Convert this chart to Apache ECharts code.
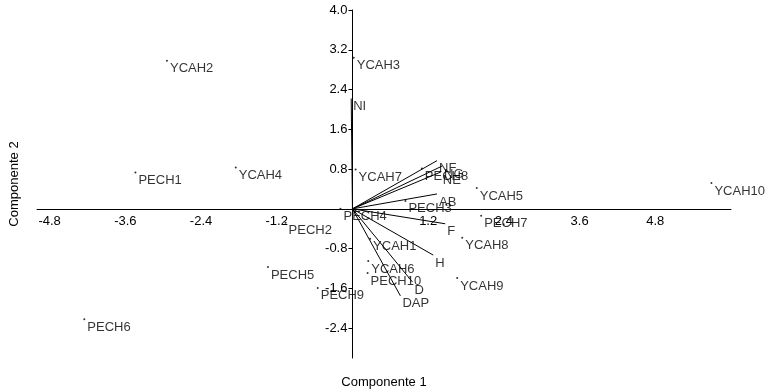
<!DOCTYPE html>
<html>
<head>
<meta charset="utf-8">
<script src="https://cdn.jsdelivr.net/npm/echarts@6/dist/echarts.min.js"></script>
<style>
  html, body { margin: 0; padding: 0; background: #fff; }
  #biplot { width: 768px; height: 390px; }
</style>
</head>
<body>
<div id="biplot"></div>
<script>
// muestras (puntos)
var sampleNames = ['YCAH2', 'YCAH3', 'PECH1', 'YCAH4', 'YCAH7', 'PECH8', 'YCAH5', 'YCAH10',
    'PECH3', 'PECH4', 'PECH2', 'PECH7', 'YCAH8', 'YCAH1', 'YCAH6', 'PECH10', 'YCAH9',
    'PECH5', 'PECH9', 'PECH6'];
var sampleX = [-2.94, 0.02, -3.44, -1.85, 0.05, 1.10, 1.97, 5.69,
    0.84, -0.19, -1.06, 2.04, 1.74, 0.28, 0.25, 0.24, 1.66,
    -1.34, -0.55, -4.25];
var sampleY = [2.98, 3.04, 0.73, 0.83, 0.79, 0.81, 0.42, 0.52,
    0.16, 0.00, -0.28, -0.14, -0.58, -0.60, -1.05, -1.29, -1.39,
    -1.17, -1.59, -2.22];

// variables (vectores)
var varNames = ['NI', 'NF', 'NG', 'NE', 'AB', 'F', 'H', 'D', 'DAP'];
var varX = [-0.02, 1.34, 1.42, 1.40, 1.34, 1.47, 1.28, 0.95, 0.76];
var varY = [2.22, 0.97, 0.86, 0.74, 0.30, -0.30, -0.93, -1.47, -1.75];

var xTicks = [-4.8, -3.6, -2.4, -1.2, 1.2, 2.4, 3.6, 4.8];
var yTicks = [-2.4, -1.6, -0.8, 0.8, 1.6, 2.4, 3.2, 4.0];

var FONT = 'Liberation Sans, Arial, sans-serif';
var W = 768, H = 390;
var G = { left: 37, right: 37, top: 10, bottom: 32 };
var X_MIN = -5, X_MAX = 6, Y_MIN = -3, Y_MAX = 4;

// los ejes se cruzan en el origen: se desplazan hacia dentro de la rejilla
var gridW = W - G.left - G.right;
var gridH = H - G.top - G.bottom;
var yAxisShift = -gridW * (0 - X_MIN) / (X_MAX - X_MIN);
var xAxisShift = -gridH * (0 - Y_MIN) / (Y_MAX - Y_MIN);

var pointData = sampleNames.map(function (n, i) {
    return { name: n, value: [sampleX[i], sampleY[i]] };
});
var vectorData = varNames.map(function (n, i) {
    return { name: n, coords: [[0, 0], [varX[i], varY[i]]] };
});
var vectorEnds = varNames.map(function (n, i) {
    return { name: n, value: [varX[i], varY[i]] };
});

var labelStyle = {
    show: true,
    position: 'right',
    distance: 2,
    offset: [0, 8],
    formatter: '{b}',
    color: '#000',
    fontSize: 13,
    fontFamily: FONT
};

var myChart = echarts.init(document.getElementById('biplot'));
var option = {
    animation: false,
    backgroundColor: '#fff',
    grid: { left: G.left, right: G.right, top: G.top, bottom: G.bottom, containLabel: false, outerBoundsMode: 'none' },
    xAxis: {
        type: 'value',
        min: X_MIN,
        max: X_MAX,
        offset: xAxisShift,
        name: 'Componente 1',
        nameLocation: 'middle',
        nameGap: 167,
        nameTextStyle: { color: '#000', fontSize: 13, fontFamily: FONT },
        axisLine: { onZero: false, lineStyle: { color: '#000', width: 1 } },
        axisTick: { show: false },
        axisLabel: {
            customValues: xTicks,
            margin: 6,
            color: '#000',
            fontSize: 13,
            fontFamily: FONT,
            formatter: function (v) { return v.toFixed(1); }
        },
        splitLine: { show: false }
    },
    yAxis: {
        type: 'value',
        min: Y_MIN,
        max: Y_MAX,
        offset: yAxisShift,
        name: 'Componente 2',
        nameLocation: 'middle',
        nameGap: 332,
        nameTextStyle: { color: '#000', fontSize: 13, fontFamily: FONT },
        axisLine: { onZero: false, lineStyle: { color: '#000', width: 1 } },
        axisTick: { show: true, length: 4, customValues: yTicks, lineStyle: { color: '#000' } },
        axisLabel: {
            customValues: yTicks,
            margin: 5,
            color: '#000',
            fontSize: 13,
            fontFamily: FONT,
            formatter: function (v) { return v.toFixed(1); }
        },
        splitLine: { show: false }
    },
    series: [
        {
            name: 'vectores',
            type: 'lines',
            coordinateSystem: 'cartesian2d',
            silent: true,
            lineStyle: { color: '#000', width: 1, opacity: 1 },
            data: vectorData
        },
        {
            name: 'variables',
            type: 'scatter',
            symbolSize: 0,
            label: labelStyle,
            data: vectorEnds
        },
        {
            name: 'muestras',
            type: 'scatter',
            symbol: 'circle',
            symbolSize: 2,
            itemStyle: { color: '#000' },
            label: labelStyle,
            data: pointData
        }
    ]
};
myChart.setOption(option);
</script>
</body>
</html>
